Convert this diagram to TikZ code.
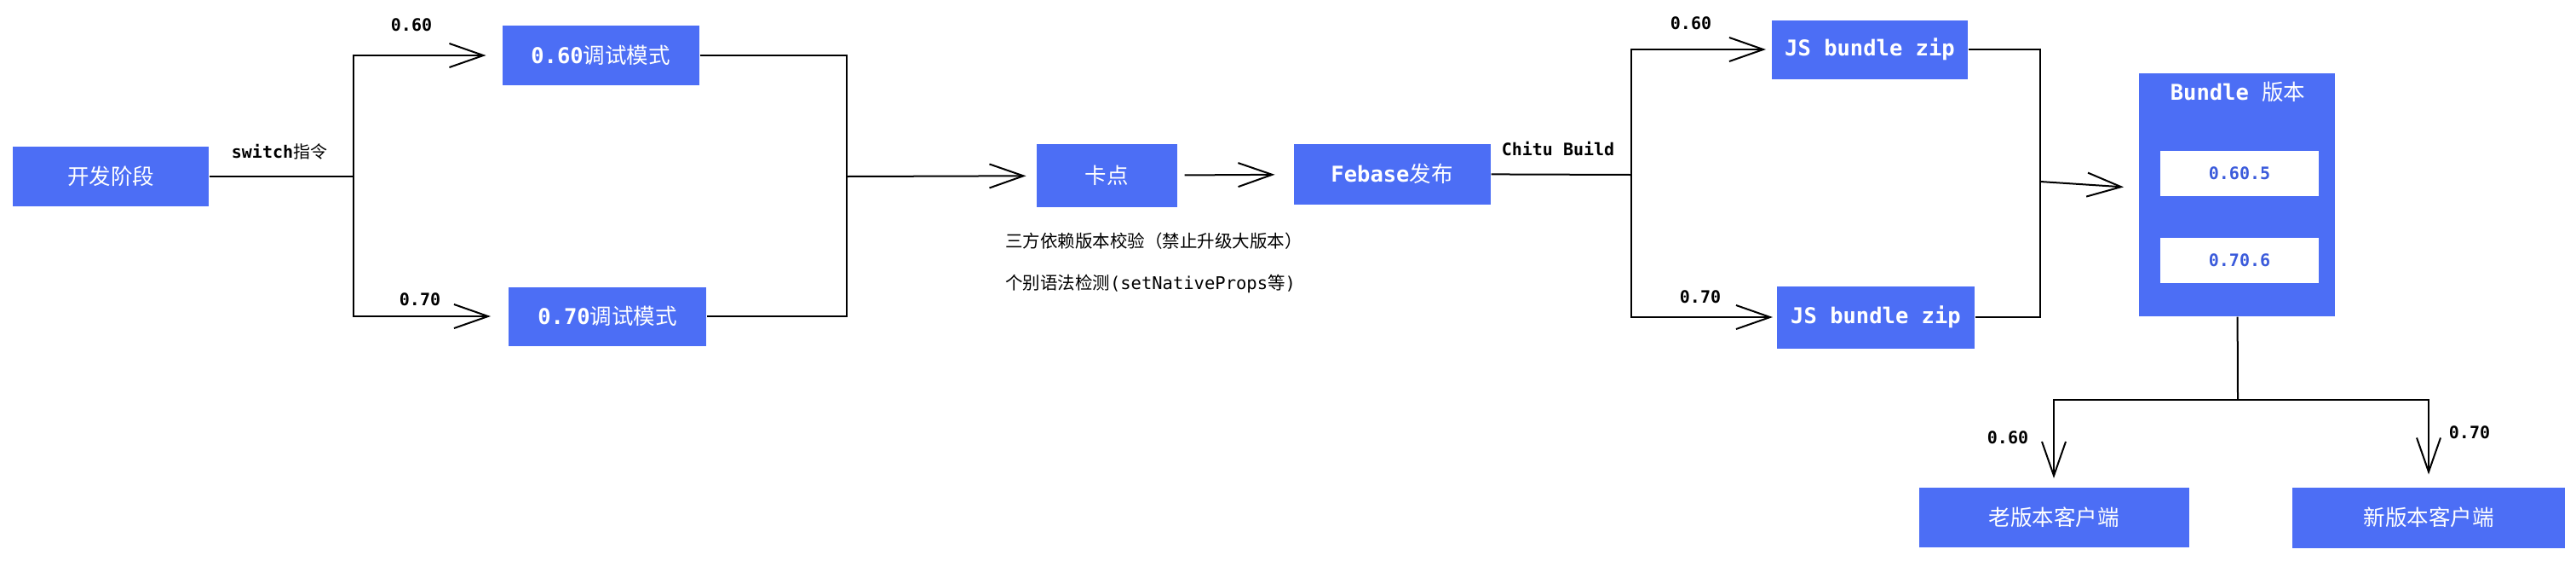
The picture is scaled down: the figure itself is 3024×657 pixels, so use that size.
\documentclass[tikz,border=0pt]{standalone}
\usepackage{fontspec}
\setmonofont{DejaVu Sans Mono}
\newfontfamily\cjk{Noto Sans CJK SC}
\newcommand\zh[1]{{\cjk\mdseries #1}}
\usetikzlibrary{arrows.meta,positioning}
\definecolor{boxblue}{HTML}{4C6EF5}
\definecolor{verblue}{HTML}{3B5BDB}

\begin{document}
\begin{tikzpicture}[x=1pt,y=-1pt,line width=2pt,
  blk/.style={fill=boxblue,text=white,inner sep=0pt,font=\fontsize{25.5}{30}\selectfont\ttfamily\bfseries},
  ver/.style={fill=white,text=verblue,inner sep=0pt,minimum width=186pt,minimum height=53pt,font=\fontsize{20}{24}\selectfont\ttfamily\bfseries},
  lbl/.style={inner sep=0pt,font=\fontsize{20}{24}\selectfont\ttfamily\bfseries},
  note/.style={inner sep=0pt,anchor=west,font=\fontsize{20.5}{24}\selectfont\ttfamily},
  arr/.style={-{Straight Barb[length=40pt,width=28pt]}}]
\useasboundingbox (0,0) rectangle (3024,657);
% boxes
\node[blk,minimum width=230pt,minimum height=70pt] (dev) at (130,207) {\zh{开发阶段}};
\node[blk,minimum width=231pt,minimum height=70pt] (m60) at (705,65) {0.60\zh{调试模式}};
\node[blk,minimum width=232pt,minimum height=69pt] (m70) at (713,371) {0.70\zh{调试模式}};
\node[blk,minimum width=165pt,minimum height=74pt] (kd) at (1299,206) {\zh{卡点}};
\node[blk,minimum width=231pt,minimum height=71pt] (fb) at (1634,204) {Febase\zh{发布}};
\node[blk,minimum width=230pt,minimum height=69pt] (js60) at (2195,58) {JS bundle zip};
\node[blk,minimum width=232pt,minimum height=73pt] (js70) at (2202,372) {JS bundle zip};
\node[blk,minimum width=230pt,minimum height=285pt] (bv) at (2626,228) {};
\node[blk,fill=none] (bt) at (2627,108) {Bundle \zh{版本}};
\node[ver] (v1) at (2629,203) {0.60.5};
\node[ver,below=47pt of v1] (v2) {0.70.6};
\node[blk,minimum width=317pt,minimum height=70pt] (old) at (2411,607) {\zh{老版本客户端}};
\node[blk,minimum width=320pt,minimum height=71pt] (new) at (2851,607) {\zh{新版本客户端}};
% labels
\node[lbl] (l1) at (483,29) {0.60};
\node[lbl] (l2) at (328,178) {switch\zh{指令}};
\node[lbl] (l3) at (493,351) {0.70};
\node[lbl] (l4) at (1829,175) {Chitu Build};
\node[lbl] (l5) at (1985,27) {0.60};
\node[lbl] (l6) at (1996,348) {0.70};
\node[lbl] (l7) at (2357,513) {0.60};
\node[lbl] (l8) at (2899,507) {0.70};
\node[note] (n1) at (1179,283) {\zh{三方依赖版本校验（禁止升级大版本）}};
\node[note] (n2) at (1179,333) {\zh{个别语法检测}(setNativeProps\zh{等})};
% connectors
\coordinate (sw) at (415,207);
\draw (dev) -- (sw);
\draw[arr,shorten >=18pt] (sw) |- (m60);
\draw[arr,shorten >=20pt] (sw) |- (m70);
\coordinate (jn) at (994,207);
\draw (m60) -| (jn);
\draw (m70) -| (jn);
\draw[arr,shorten >=11pt] (jn) -- (kd);
\draw[arr,shorten <=8pt,shorten >=21pt] (kd) -- (fb);
\coordinate (cb) at (1915,205);
\draw (fb) -- (cb);
\draw[arr,shorten >=6pt] (cb) |- (js60);
\draw[arr,shorten >=4pt] (cb) |- (js70);
\coordinate (jn2) at (2395,213);
\draw (js60) -| (jn2);
\draw (js70) -| (jn2);
\draw[arr,shorten >=17pt] (jn2) -- (bv);
\coordinate (fork) at (2627,469);
\draw (bv) -- (fork);
\draw[arr,shorten >=10pt] (fork) -| (old);
\draw[arr,shorten >=14pt] (fork) -| (new);
\end{tikzpicture}
\end{document}
